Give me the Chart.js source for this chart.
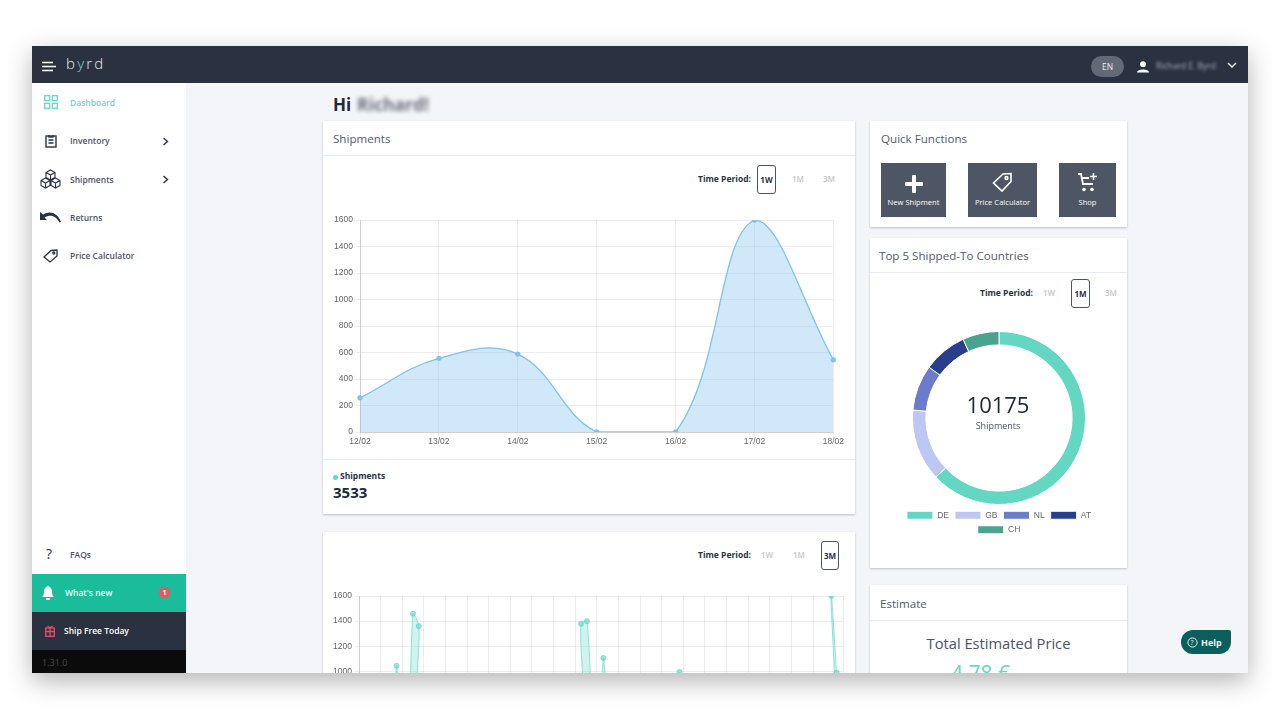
<!DOCTYPE html>
<html>
<head>
<meta charset="utf-8">
<title>byrd dashboard</title>
<script src="https://cdn.jsdelivr.net/npm/chart.js@4/dist/chart.umd.min.js"></script>
<style>
  html, body { margin: 0; padding: 0; background: #fff; width: 1280px; height: 720px; overflow: hidden; font-family: "Open Sans", sans-serif; }
  #screen { position: absolute; left: 32px; top: 46px; width: 1216px; height: 627px; overflow: hidden; background: #f4f5f8; box-shadow: 0 8px 24px rgba(0,0,0,.3); }
  /* everything inside is placed in page coordinates */
  #page { position: absolute; left: -32px; top: -46px; width: 1280px; height: 720px; }
  #page div, #page canvas, #page svg { position: absolute; }
  .t { white-space: nowrap; line-height: 1; }
  .card { background: #fff; box-shadow: 0 1px 2px rgba(40,50,70,.28); }
  .rule { height: 1px; background: #e7ebf0; }
  .nav { font-size: 8.5px; font-weight: 600; color: #4c5364; transform: translateY(-50%); }
  .head { font-size: 11.6px; color: #555b6a; transform: translateY(-50%); }
  .tp { font-size: 8.5px; font-weight: 700; color: #2a3242; transform: translateY(-50%); }
  .off { font-size: 8px; font-weight: 600; color: #c3c6cd; transform: translate(-50%, -50%); }
  .btn { border: 1.5px solid #4c5364; border-radius: 3px; box-sizing: border-box; font-size: 8px; font-weight: 700; color: #2a3242; display: flex; align-items: center; justify-content: center; }
  .qf { background: #4e5665; }
  .qf .t { font-size: 7.6px; color: #fff; top: 36px; left: 0; right: 0; text-align: center; }
  .bar { background: #2a3242; }
</style>
</head>
<body>
<div id="screen"><div id="page">

  <!-- top bar -->
  <div class="bar" style="left:32px;top:46px;width:1216px;height:37px"></div>
  <svg style="left:42px;top:61px" width="15" height="11" stroke="#fff" stroke-width="1.5"><path d="M0 1.5H11M0 5.5H14M0 9.5H11"/></svg>
  <div class="t" style="left:66px;top:56px;font-size:15px;color:#e8eaee;letter-spacing:2.2px;font-weight:300">b<span style="color:#7fdcc8">y</span>rd</div>
  <div style="left:1091px;top:56px;width:33px;height:21px;border-radius:11px;background:#626a78"></div>
  <div class="t" style="left:1102px;top:63px;font-size:8.5px;color:#e8eaee">EN</div>
  <svg style="left:1137px;top:61px" width="12" height="12" fill="#fff"><circle cx="6" cy="3.2" r="2.9"/><path d="M0 11.5C0 7.6 12 7.6 12 11.5Z"/></svg>
  <div class="t" style="left:1156px;top:62px;font-size:8.5px;color:#aab0bb;filter:blur(1.6px)">Richard E. Byrd</div>
  <svg style="left:1227px;top:62px" width="10" height="7" fill="none" stroke="#fff" stroke-width="1.4"><path d="M1 1L5 5L9 1"/></svg>

  <!-- sidebar -->
  <div style="left:32px;top:83px;width:154px;height:590px;background:#fff"></div>
  <svg style="left:44px;top:95px" width="14" height="14" fill="none" stroke="#62d9c4" stroke-width="1.3"><rect x=".7" y=".7" width="5" height="5"/><rect x="8.3" y=".7" width="5" height="5"/><rect x=".7" y="8.3" width="5" height="5"/><rect x="8.3" y="8.3" width="5" height="5"/></svg>
  <div class="t nav" style="left:70px;top:103px;color:#6fd3bf">Dashboard</div>
  <svg style="left:45px;top:134px" width="12" height="14" fill="none" stroke="#2a3242" stroke-width="1.4"><rect x="1" y="2" width="10" height="11"/><path d="M4 1V3H8V1M3.5 6H8.5M3.5 9H8.5"/></svg>
  <div class="t nav" style="left:70px;top:141px">Inventory</div>
  <svg style="left:162px;top:137px" width="7" height="9" fill="none" stroke="#2a3242" stroke-width="1.4"><path d="M1.5 1L5.5 4.5L1.5 8"/></svg>
  <svg style="left:40px;top:169px" width="21" height="20" fill="none" stroke="#2a3242" stroke-width="1.1"><path d="M10.5 1L15 3.5V8.5L10.5 11L6 8.5V3.5ZM6 3.5L10.5 6L15 3.5M10.5 6V11M5.5 9L10 11.5V16.5L5.5 19L1 16.5V11.5ZM1 11.5L5.5 14L10 11.5M5.5 14V19M15.5 9L20 11.5V16.5L15.5 19L11 16.5V11.5ZM11 11.5L15.5 14L20 11.5M15.5 14V19"/></svg>
  <div class="t nav" style="left:70px;top:180px">Shipments</div>
  <svg style="left:162px;top:175px" width="7" height="9" fill="none" stroke="#2a3242" stroke-width="1.4"><path d="M1.5 1L5.5 4.5L1.5 8"/></svg>
  <svg style="left:40px;top:211px" width="21" height="12"><path d="M0 1V9H7L4.5 6.5C10 3 16 4.5 19.5 11.5L21 11C18 2 10 -1 3 3.5Z" fill="#2a3242"/></svg>
  <div class="t nav" style="left:70px;top:218px">Returns</div>
  <svg style="left:43px;top:249px" width="15" height="14" fill="none" stroke="#2a3242" stroke-width="1.3"><path d="M1 8L8 1.5L14 1V7L7 13Z"/><circle cx="10.8" cy="4" r="1"/></svg>
  <div class="t nav" style="left:70px;top:256px">Price Calculator</div>
  <div class="t" style="left:46px;top:547px;font-size:14px;color:#2a3242">?</div>
  <div class="t nav" style="left:70px;top:555px">FAQs</div>
  <div style="left:32px;top:574px;width:154px;height:38px;background:#1abc9c"></div>
  <svg style="left:42px;top:586px" width="12" height="14" fill="#fff"><path d="M6 0C9 1 10 3 10 6C10 9 11 10 12 11H0C1 10 2 9 2 6C2 3 3 1 6 0Z"/><rect x="4" y="12" width="4" height="2" rx="1"/></svg>
  <div class="t nav" style="left:65px;top:593px;color:#eafbf6">What's new</div>
  <div style="left:159px;top:586.5px;width:11px;height:11px;border-radius:50%;background:#f2545f"></div>
  <div class="t" style="left:162.5px;top:588.5px;font-size:7px;font-weight:700;color:#fff">1</div>
  <div class="bar" style="left:32px;top:612px;width:154px;height:38px"></div>
  <svg style="left:45px;top:625px" width="10" height="12" fill="none" stroke="#e8505f" stroke-width="1.3"><rect x=".7" y="3" width="8.6" height="8.3"/><path d="M.7 6.5H9.3M5 3V11.3M2.5 1L5 3L7.5 1"/></svg>
  <div class="t nav" style="left:64px;top:631px;color:#fff">Ship Free Today</div>
  <div style="left:32px;top:650px;width:154px;height:23px;background:#0b0b0b"></div>
  <div class="t" style="left:42px;top:658px;font-size:9px;color:#494949">1.31.0</div>

  <!-- greeting -->
  <div class="t" style="left:333px;top:96px;font-size:17px;font-weight:700;color:#20283a">Hi</div>
  <div class="t" style="left:357px;top:96px;font-size:17.5px;font-weight:700;color:#6a6f7a;filter:blur(2px)">Richard!</div>

  <!-- shipments card -->
  <div class="card" style="left:323px;top:121px;width:532px;height:393px"></div>
  <div class="t head" style="left:333px;top:139px">Shipments</div>
  <div class="rule" style="left:323px;top:155px;width:532px"></div>
  <div class="t tp" style="left:698px;top:179px">Time Period:</div>
  <div class="t btn" style="left:757px;top:165px;width:19px;height:29px">1W</div>
  <div class="t off" style="left:798px;top:179px">1M</div>
  <div class="t off" style="left:829px;top:179px">3M</div>
  <canvas id="weekChart" style="left:323px;top:205px"></canvas>
  <div class="rule" style="left:323px;top:459px;width:532px"></div>
  <div style="left:333px;top:474.5px;width:5px;height:5px;border-radius:50%;background:#62d9c4"></div>
  <div class="t" style="left:340px;top:472px;font-size:8.5px;font-weight:700;color:#2a3242">Shipments</div>
  <div class="t" style="left:333px;top:485px;font-size:15px;font-weight:700;color:#20283a">3533</div>

  <!-- three month card -->
  <div class="card" style="left:323px;top:532px;width:532px;height:300px"></div>
  <div class="t tp" style="left:698px;top:555px">Time Period:</div>
  <div class="t off" style="left:767px;top:555px">1W</div>
  <div class="t off" style="left:799px;top:555px">1M</div>
  <div class="t btn" style="left:821px;top:541px;width:18px;height:29px">3M</div>
  <canvas id="quarterChart" style="left:323px;top:585px"></canvas>

  <!-- quick functions -->
  <div class="card" style="left:870px;top:121px;width:257px;height:106px"></div>
  <div class="t head" style="left:881px;top:139px">Quick Functions</div>
  <div class="qf" style="left:881px;top:163px;width:65px;height:54px">
    <svg style="left:23px;top:11px" width="20" height="20" fill="#fff"><rect x="8" y="1" width="4" height="18" rx="1"/><rect x="1" y="8" width="18" height="4" rx="1"/></svg>
    <div class="t">New Shipment</div>
  </div>
  <div class="qf" style="left:968px;top:163px;width:69px;height:54px">
    <svg style="left:24px;top:9px" width="21" height="21" fill="none" stroke="#fff" stroke-width="1.6"><path d="M1.5 11L11 2L19 1.5V9.5L10 19Z"/><circle cx="14.5" cy="6" r="1.4"/></svg>
    <div class="t">Price Calculator</div>
  </div>
  <div class="qf" style="left:1059px;top:163px;width:57px;height:54px">
    <svg style="left:18px;top:9px" width="21" height="21" fill="none" stroke="#fff" stroke-width="1.8"><path d="M1 2H4L6 12H16M4.5 6H12"/><path d="M13 4.5H20M16.5 1V8" stroke-width="1.6"/><circle cx="7" cy="17.5" r="1.8" fill="#fff" stroke="none"/><circle cx="15" cy="17.5" r="1.8" fill="#fff" stroke="none"/></svg>
    <div class="t">Shop</div>
  </div>

  <!-- top countries -->
  <div class="card" style="left:870px;top:238px;width:257px;height:330px"></div>
  <div class="t head" style="left:879px;top:256px">Top 5 Shipped-To Countries</div>
  <div class="rule" style="left:870px;top:272px;width:257px"></div>
  <div class="t tp" style="left:980px;top:293px">Time Period:</div>
  <div class="t off" style="left:1049px;top:293px">1W</div>
  <div class="t btn" style="left:1071px;top:279px;width:19px;height:29px">1M</div>
  <div class="t off" style="left:1111px;top:293px">3M</div>
  <canvas id="countryChart" style="left:894px;top:325px"></canvas>
  <div class="t" style="left:898px;width:200px;text-align:center;top:393px;font-size:22px;color:#20283a">10175</div>
  <div class="t" style="left:898px;width:200px;text-align:center;top:421px;font-size:9px;color:#4c5364">Shipments</div>

  <!-- estimate -->
  <div class="card" style="left:870px;top:585px;width:257px;height:200px"></div>
  <div class="t head" style="left:880px;top:604px">Estimate</div>
  <div class="rule" style="left:870px;top:620px;width:257px"></div>
  <div class="t" style="left:870px;width:257px;text-align:center;top:636px;font-size:14.7px;color:#4c5364">Total Estimated Price</div>
  <div class="t" style="left:951px;top:663px;font-size:21px;color:#62d9c4">4.78 €</div>

  <!-- help -->
  <div style="left:1181px;top:630px;width:50px;height:24px;background:#0b5e5c;border-radius:12px 2px 12px 12px"></div>
  <svg style="left:1187px;top:637px" width="11" height="11" fill="none" stroke="#e8f4f2"><circle cx="5.5" cy="5.5" r="4.6"/></svg>
  <div class="t" style="left:1190.5px;top:639px;font-size:7px;color:#e8f4f2">?</div>
  <div class="t" style="left:1201px;top:638px;font-size:9px;font-weight:700;color:#e8f4f2">Help</div>

</div></div>

<script>
  const tickFont = { family: '"Liberation Sans", Arial, sans-serif', size: 8.5 };
  const gridColor = 'rgba(0, 0, 0, 0.07)';
  const plainTick = value => value;

  const weekData = [
    { day: '12/02', shipments: 258 },
    { day: '13/02', shipments: 556 },
    { day: '14/02', shipments: 588 },
    { day: '15/02', shipments: 0 },
    { day: '16/02', shipments: 0 },
    { day: '17/02', shipments: 1600 },
    { day: '18/02', shipments: 545 }
  ];

  // only the tops are visible above the fold, lower values are estimates
  const quarterData = [
    [0, 210], [5.5, 420], [6.4, 1045], [7.3, 400],
    [8.3, 300], [9.2, 1458], [10.2, 1360], [11.2, 500],
    [36.9, 240], [37.9, 1379], [38.9, 1400], [39.9, 600],
    [40.8, 250], [41.7, 1107], [42.7, 850],
    [53.8, 320], [54.7, 995], [55.6, 260],
    [79.7, 300], [80.6, 1600], [81.5, 990], [82.6, 400]
  ];

  const countries = {
    DE: 6413,
    GB: 1368,
    NL: 868,
    AT: 834,
    CH: 692
  };

  const weekCanvas = document.getElementById('weekChart');
  weekCanvas.width = 522;
  weekCanvas.height = 245;
  new Chart(weekCanvas, {
    type: 'line',
    data: {
      labels: weekData.map(item => item.day),
      datasets: [{
        label: 'Shipments',
        data: weekData.map(item => item.shipments),
        borderColor: '#7fc3ea',
        borderWidth: 1.3,
        backgroundColor: 'rgba(125, 190, 232, 0.36)',
        pointBackgroundColor: '#7fc3ea',
        pointBorderColor: '#7fc3ea',
        pointRadius: 2,
        fill: true,
        tension: 0.4
      }]
    },
    options: {
      responsive: false,
      animation: false,
      layout: { padding: { top: 15, right: 9, bottom: 0, left: 0 } },
      plugins: { legend: { display: false }, tooltip: { enabled: false } },
      scales: {
        x: {
          grid: { color: gridColor, tickLength: 4 },
          border: { color: 'rgba(0, 0, 0, 0.13)' },
          ticks: { font: tickFont, color: '#666', maxRotation: 0, padding: 1 },
          afterFit: axis => { axis.height = 18; }
        },
        y: {
          min: 0,
          max: 1600,
          grid: { color: gridColor, tickLength: 4 },
          border: { color: 'rgba(0, 0, 0, 0.13)' },
          ticks: { stepSize: 200, font: tickFont, color: '#666', padding: 3, callback: plainTick },
          afterFit: axis => { axis.width = 37; }
        }
      }
    }
  });

  const quarterCanvas = document.getElementById('quarterChart');
  quarterCanvas.width = 530;
  quarterCanvas.height = 230;
  new Chart(quarterCanvas, {
    type: 'line',
    data: {
      datasets: [{
        label: 'Shipments',
        data: quarterData.map(([x, y]) => ({ x, y })),
        borderColor: 'rgba(98, 217, 196, 0.7)',
        borderWidth: 1,
        backgroundColor: 'rgba(98, 217, 196, 0.3)',
        pointBackgroundColor: 'rgba(98, 217, 196, 0.6)',
        pointBorderColor: 'rgba(98, 217, 196, 0.8)',
        pointRadius: 2.5,
        fill: true,
        tension: 0.25
      }]
    },
    options: {
      responsive: false,
      animation: false,
      layout: { padding: { top: 11, right: 10, bottom: 0, left: 0 } },
      plugins: { legend: { display: false }, tooltip: { enabled: false } },
      scales: {
        x: {
          type: 'linear',
          min: 0,
          max: 82.6,
          grid: { color: gridColor },
          border: { color: 'rgba(0, 0, 0, 0.13)' },
          ticks: { stepSize: 3.69, display: false },
          afterFit: axis => { axis.height = 18; }
        },
        y: {
          min: 0,
          max: 1600,
          grid: { color: gridColor, tickLength: 4 },
          border: { color: 'rgba(0, 0, 0, 0.13)' },
          ticks: { stepSize: 200, font: tickFont, color: '#666', padding: 3, callback: plainTick },
          afterFit: axis => { axis.width = 36; }
        }
      }
    }
  });

  const countryCanvas = document.getElementById('countryChart');
  countryCanvas.width = 210;
  countryCanvas.height = 219;
  new Chart(countryCanvas, {
    type: 'doughnut',
    data: {
      labels: Object.keys(countries),
      datasets: [{
        data: Object.values(countries),
        backgroundColor: ['#63d7c2', '#bec6f3', '#6c7cca', '#2a3f8c', '#4aa28f'],
        borderColor: '#fff',
        borderWidth: 1
      }]
    },
    options: {
      responsive: false,
      animation: false,
      cutout: '84.5%',
      layout: { padding: { top: 6, bottom: 0 } },
      plugins: {
        tooltip: { enabled: false },
        legend: {
          position: 'bottom',
          labels: { boxWidth: 26, boxHeight: 8, font: { family: tickFont.family, size: 8.5 }, color: '#666', padding: 6 }
        }
      }
    }
  });
</script>
</body>
</html>
